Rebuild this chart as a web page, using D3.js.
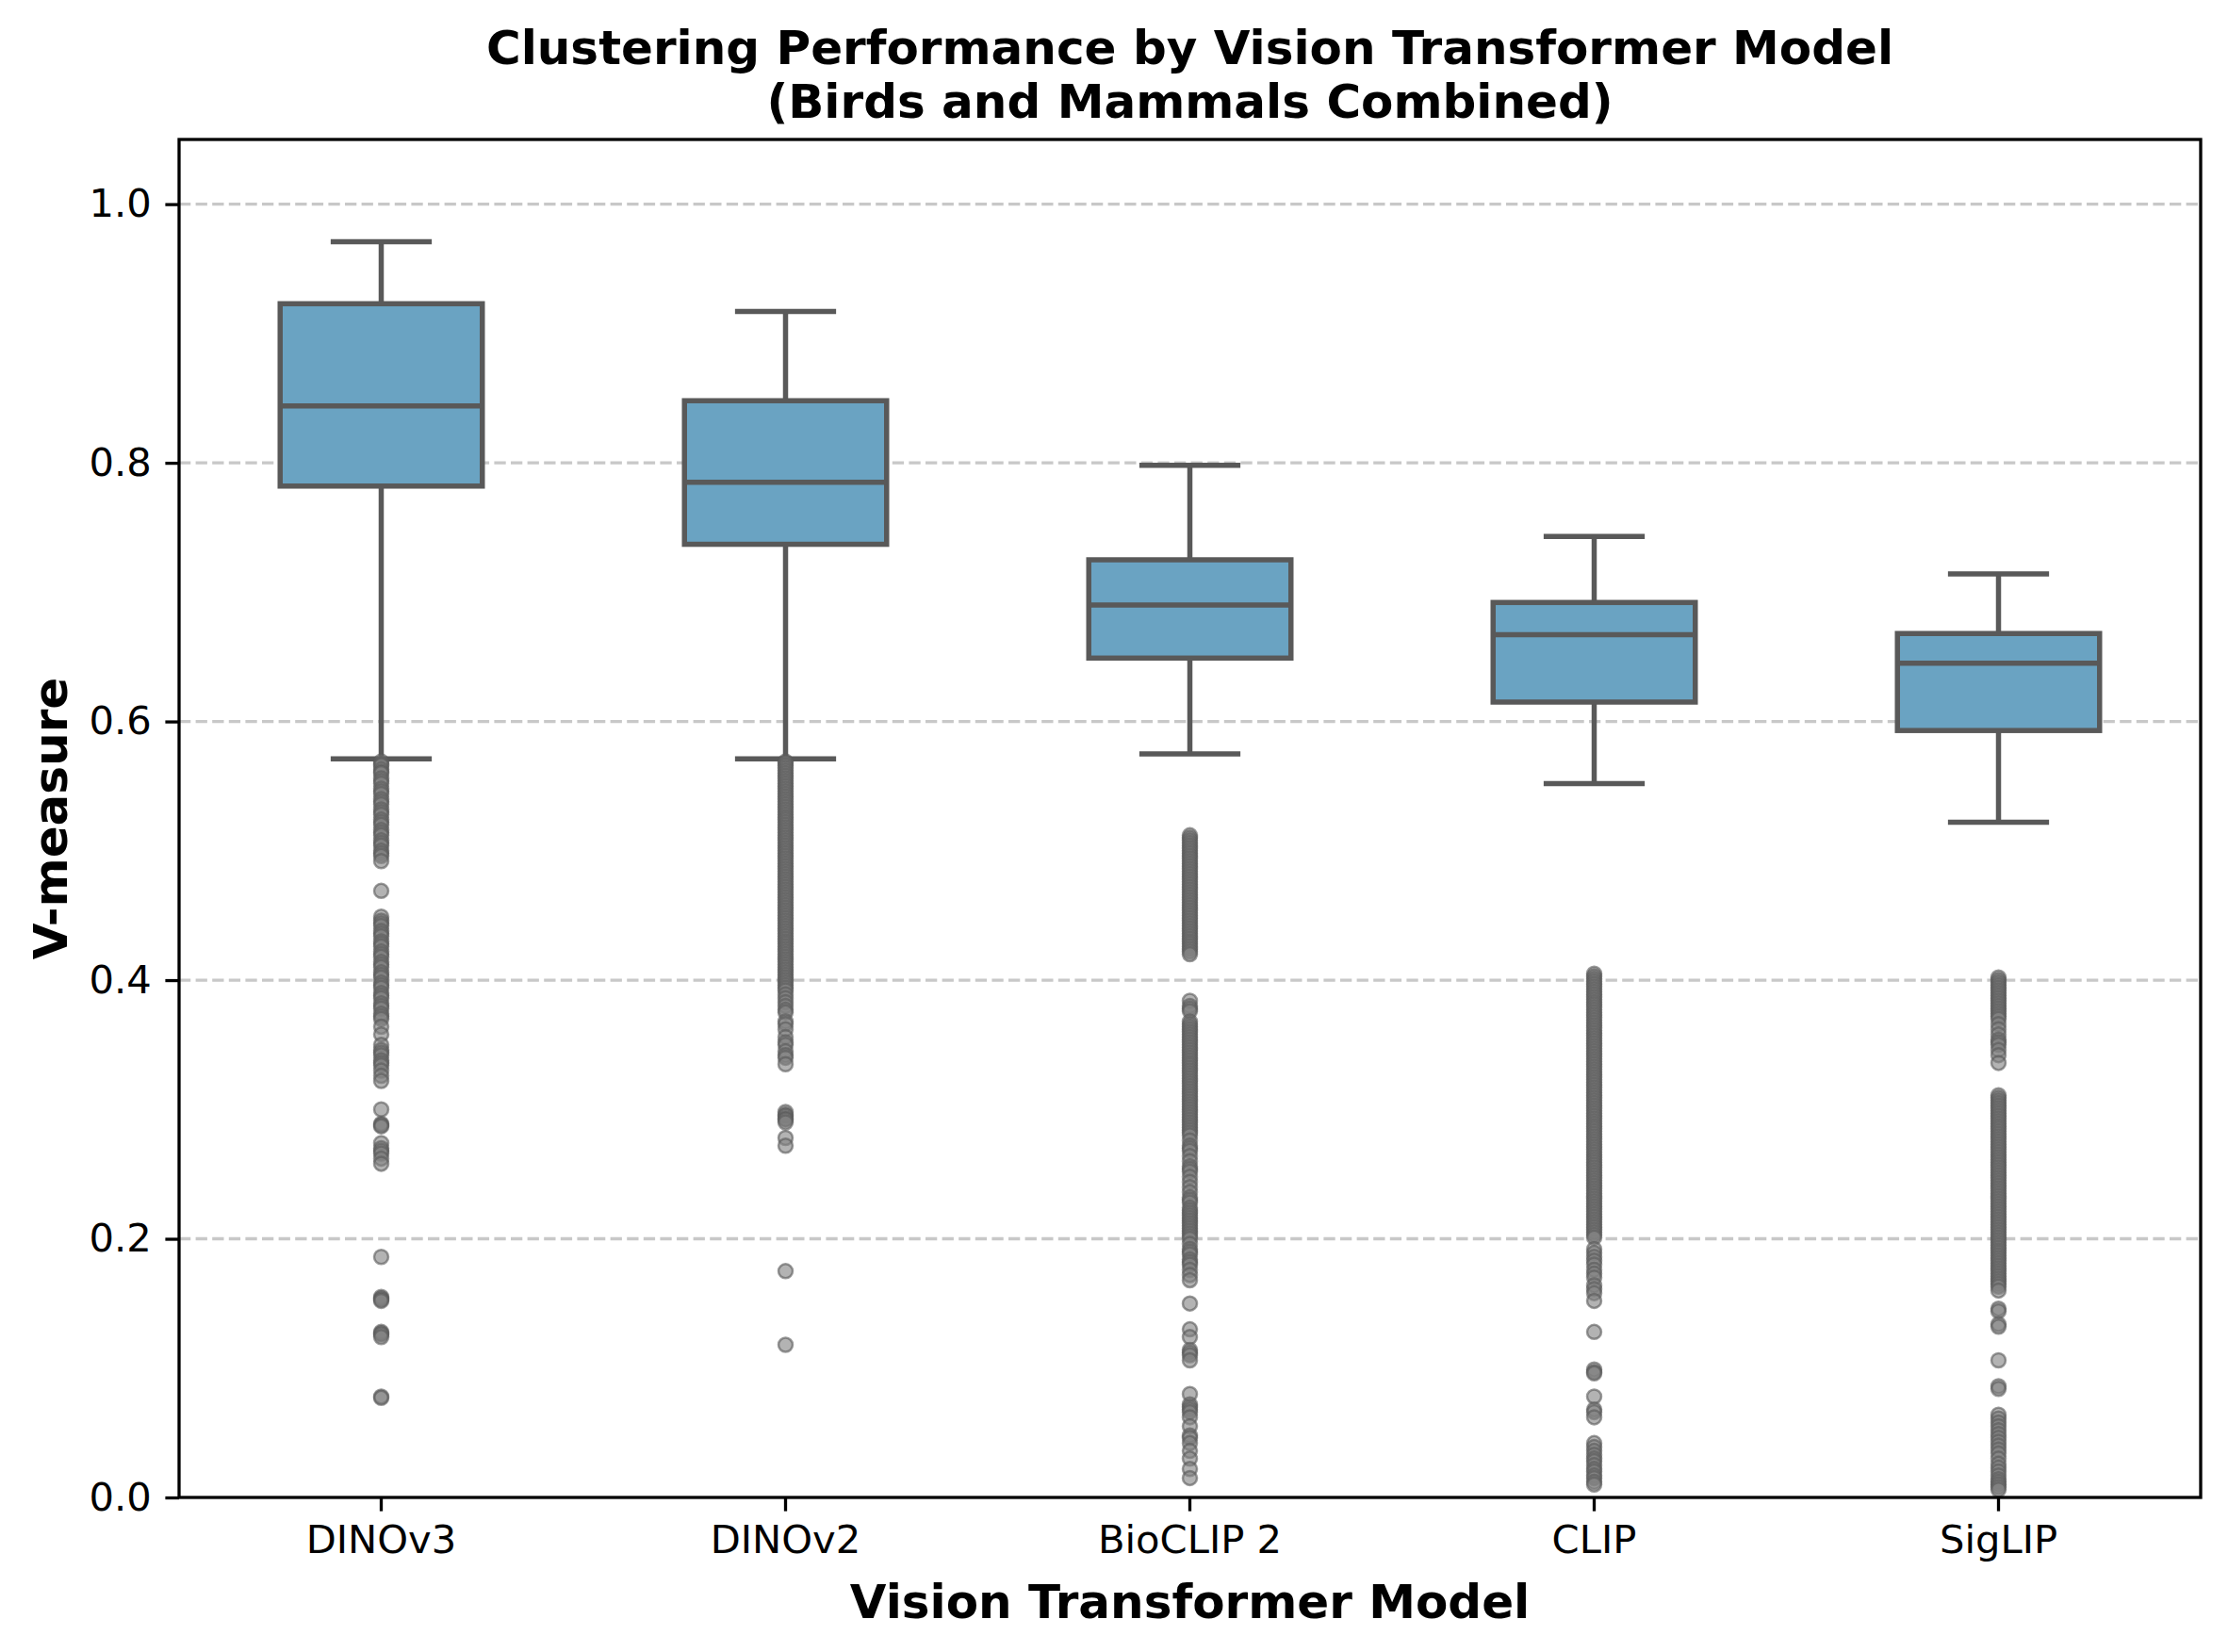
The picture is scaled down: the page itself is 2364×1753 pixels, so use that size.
<!DOCTYPE html>
<html>
<head>
<meta charset="utf-8">
<script src="https://cdn.jsdelivr.net/npm/d3@7"></script>
<style>
  body { margin: 0; background: #fff; }
  text { font-family: 'DejaVu Sans', sans-serif; }
</style>
</head>
<body>
<div id="chart-container"></div>
<script>
// models and box stats
const models = ['DINOv3', 'DINOv2', 'BioCLIP 2', 'CLIP', 'SigLIP'];
const whiskerHigh = [0.971, 0.917, 0.798, 0.743, 0.714];
const q3 = [0.923, 0.848, 0.725, 0.692, 0.668];
const median = [0.844, 0.785, 0.690, 0.667, 0.645];
const q1 = [0.782, 0.737, 0.649, 0.615, 0.593];
const whiskerLow = [0.571, 0.571, 0.575, 0.552, 0.522];
const yTicks = [0.0, 0.2, 0.4, 0.6, 0.8, 1.0];

// outliers per model (estimated, dense runs overlap)
const dinov3Out = [0.569, 0.567, 0.566, 0.563, 0.561, 0.560, 0.556, 0.554, 0.552, 0.548, 0.546, 0.544,
  0.540, 0.538, 0.536, 0.532, 0.530, 0.528, 0.524, 0.522, 0.520, 0.516, 0.514, 0.512, 0.508, 0.506,
  0.504, 0.500, 0.498, 0.496, 0.492, 0.469,
  0.449, 0.446, 0.444, 0.442, 0.438, 0.436, 0.434, 0.430, 0.428, 0.426, 0.422, 0.420, 0.418, 0.414,
  0.412, 0.410, 0.406, 0.404, 0.402, 0.398, 0.396, 0.394, 0.390, 0.388, 0.386, 0.382, 0.380, 0.378,
  0.374, 0.372, 0.370, 0.364, 0.358, 0.350, 0.346, 0.344, 0.342, 0.338, 0.336, 0.334, 0.330, 0.326,
  0.322, 0.300, 0.289, 0.288, 0.287, 0.274, 0.270, 0.268, 0.266, 0.262, 0.258,
  0.186, 0.155, 0.154, 0.153, 0.152, 0.128, 0.127, 0.126, 0.124, 0.078, 0.077];
const dinov2Out = [0.569, 0.568, 0.566, 0.564, 0.562, 0.560, 0.558, 0.556, 0.554, 0.552, 0.550, 0.548,
  0.546, 0.544, 0.542, 0.540, 0.538, 0.536, 0.534, 0.532, 0.530, 0.528, 0.526, 0.524, 0.522, 0.520,
  0.518, 0.516, 0.514, 0.512, 0.510, 0.508, 0.506, 0.504, 0.502, 0.500, 0.498, 0.496, 0.494, 0.492,
  0.490, 0.488, 0.486, 0.484, 0.482, 0.480, 0.478, 0.476, 0.474, 0.472, 0.470, 0.468, 0.466, 0.464,
  0.462, 0.460, 0.458, 0.456, 0.454, 0.452, 0.450, 0.448, 0.446, 0.444, 0.442, 0.440, 0.438, 0.436,
  0.434, 0.432, 0.430, 0.428, 0.426, 0.424, 0.422, 0.420, 0.418, 0.416, 0.414, 0.412, 0.410, 0.408,
  0.406, 0.404, 0.402, 0.400, 0.398, 0.396, 0.394, 0.392, 0.389, 0.386, 0.383, 0.380, 0.377, 0.375,
  0.368, 0.366, 0.362, 0.356, 0.352, 0.350, 0.345, 0.342, 0.340, 0.335,
  0.298, 0.296, 0.295, 0.293, 0.292, 0.290, 0.278, 0.272, 0.175, 0.118];
const bioclipOut = [0.512, 0.510, 0.508, 0.506, 0.504, 0.502, 0.500, 0.498, 0.496, 0.494, 0.492, 0.490,
  0.488, 0.486, 0.484, 0.482, 0.480, 0.478, 0.476, 0.474, 0.472, 0.470, 0.468, 0.466, 0.464, 0.462,
  0.460, 0.458, 0.456, 0.454, 0.452, 0.450, 0.448, 0.446, 0.444, 0.442, 0.440, 0.438, 0.436, 0.434,
  0.432, 0.430, 0.428, 0.426, 0.424, 0.422, 0.420,
  0.384, 0.380, 0.378, 0.376, 0.368, 0.366, 0.364, 0.362, 0.360, 0.358, 0.356, 0.354, 0.352, 0.350,
  0.348, 0.346, 0.344, 0.342, 0.340, 0.338, 0.336, 0.334, 0.332, 0.330, 0.328, 0.326, 0.324, 0.322,
  0.320, 0.318, 0.316, 0.314, 0.312, 0.310, 0.308, 0.306, 0.304, 0.302, 0.300, 0.298, 0.296, 0.294,
  0.292, 0.290, 0.288, 0.286, 0.284, 0.282, 0.280, 0.276, 0.272, 0.270, 0.268, 0.264, 0.260, 0.256,
  0.254, 0.252, 0.248, 0.244, 0.240, 0.236, 0.232, 0.230, 0.228, 0.224, 0.222, 0.220, 0.218, 0.216,
  0.214, 0.212, 0.210, 0.208, 0.206, 0.204, 0.202, 0.200, 0.196, 0.192, 0.190, 0.188, 0.184, 0.182,
  0.180, 0.176, 0.172, 0.168,
  0.150, 0.130, 0.124, 0.114, 0.112, 0.110, 0.106, 0.080, 0.072, 0.070, 0.068, 0.066, 0.062, 0.055,
  0.048, 0.046, 0.042, 0.036, 0.030, 0.022, 0.015];
const clipOut = [0.405, 0.403, 0.401, 0.399, 0.397, 0.395, 0.393, 0.391, 0.389, 0.387, 0.385, 0.383,
  0.381, 0.379, 0.377, 0.375, 0.373, 0.371, 0.369, 0.367, 0.365, 0.363, 0.361, 0.359, 0.357, 0.355,
  0.353, 0.351, 0.349, 0.347, 0.345, 0.343, 0.341, 0.339, 0.337, 0.335, 0.333, 0.331, 0.329, 0.327,
  0.325, 0.323, 0.321, 0.319, 0.317, 0.315, 0.313, 0.311, 0.309, 0.307, 0.305, 0.303, 0.301, 0.299,
  0.297, 0.295, 0.293, 0.291, 0.289, 0.287, 0.285, 0.283, 0.281, 0.279, 0.277, 0.275, 0.273, 0.271,
  0.269, 0.267, 0.265, 0.263, 0.261, 0.259, 0.257, 0.255, 0.253, 0.251, 0.249, 0.247, 0.245, 0.243,
  0.241, 0.239, 0.237, 0.235, 0.233, 0.231, 0.229, 0.227, 0.225, 0.223, 0.221, 0.219, 0.217, 0.215,
  0.213, 0.211, 0.209, 0.207, 0.205, 0.203, 0.201,
  0.192, 0.189, 0.186, 0.183, 0.180, 0.176, 0.173, 0.170, 0.164, 0.161, 0.158, 0.152, 0.128,
  0.099, 0.097, 0.096, 0.078, 0.068, 0.066, 0.062, 0.042, 0.039, 0.036, 0.033, 0.030, 0.028, 0.025,
  0.022, 0.020, 0.017, 0.015, 0.012, 0.010];
const siglipOut = [0.402, 0.400, 0.398, 0.396, 0.394, 0.392, 0.390, 0.388, 0.386, 0.384, 0.382, 0.380,
  0.378, 0.376, 0.374, 0.372, 0.370, 0.366, 0.362, 0.358, 0.354, 0.352, 0.350, 0.346, 0.342, 0.336,
  0.311, 0.309, 0.307, 0.305, 0.303, 0.301, 0.299, 0.297, 0.295, 0.293, 0.291, 0.289, 0.287, 0.285,
  0.283, 0.281, 0.279, 0.277, 0.275, 0.273, 0.271, 0.269, 0.267, 0.265, 0.263, 0.261, 0.259, 0.257,
  0.255, 0.253, 0.251, 0.249, 0.247, 0.245, 0.243, 0.241, 0.239, 0.237, 0.235, 0.233, 0.231, 0.229,
  0.227, 0.225, 0.223, 0.221, 0.219, 0.217, 0.215, 0.213, 0.211, 0.209, 0.207, 0.205, 0.203, 0.201,
  0.199, 0.197, 0.195, 0.193, 0.191, 0.189, 0.187, 0.185, 0.183, 0.181, 0.179, 0.177, 0.175, 0.173,
  0.171, 0.169, 0.167, 0.165, 0.163, 0.160,
  0.146, 0.144, 0.134, 0.132, 0.106, 0.086, 0.084, 0.064, 0.061, 0.058, 0.055, 0.052, 0.049, 0.046,
  0.043, 0.040, 0.037, 0.034, 0.030, 0.026, 0.023, 0.020, 0.017, 0.014, 0.012, 0.010, 0.008, 0.006];
const outliers = [dinov3Out, dinov2Out, bioclipOut, clipOut, siglipOut];

const W = 2364, H = 1753;
const margin = { left: 190, top: 148, right: 29, bottom: 164 };
const innerW = W - margin.left - margin.right;
const innerH = H - margin.top - margin.bottom;
const boxFill = '#6aa3c2';
const lineCol = '#595959';
const lw = 5.5;
const tickLen = 14.6;

const svg = d3.select('div#chart-container')
  .append('svg')
  .attr('width', W)
  .attr('height', H);

const g = svg.append('g')
  .attr('transform', `translate(${margin.left},${margin.top})`);

const x = d3.scaleBand()
  .domain(models)
  .range([0, innerW])
  .padding(0);

const y = d3.scaleLinear()
  .domain([0, 1.05])
  .range([innerH, 0]);

// grid
g.append('g')
  .selectAll('line')
  .data(yTicks.filter(d => d > 0))
  .enter()
  .append('line')
  .attr('x1', 0)
  .attr('x2', innerW)
  .attr('y1', d => y(d))
  .attr('y2', d => y(d))
  .attr('stroke', '#c8c8c8')
  .attr('stroke-width', 3.3)
  .attr('stroke-dasharray', '12.3,5.3');

const boxW = x.bandwidth() * 0.5;
const capW = boxW * 0.5;

const box = g.selectAll('g.box')
  .data(models)
  .enter()
  .append('g')
  .attr('class', 'box')
  .attr('transform', d => `translate(${x(d) + x.bandwidth() / 2},0)`);

// whiskers
box.append('line')
  .attr('y1', (_, i) => y(q3[i]))
  .attr('y2', (_, i) => y(whiskerHigh[i]))
  .attr('stroke', lineCol).attr('stroke-width', lw);
box.append('line')
  .attr('y1', (_, i) => y(q1[i]))
  .attr('y2', (_, i) => y(whiskerLow[i]))
  .attr('stroke', lineCol).attr('stroke-width', lw);

// caps
box.append('line')
  .attr('x1', -capW / 2).attr('x2', capW / 2)
  .attr('y1', (_, i) => y(whiskerHigh[i]))
  .attr('y2', (_, i) => y(whiskerHigh[i]))
  .attr('stroke', lineCol).attr('stroke-width', lw);
box.append('line')
  .attr('x1', -capW / 2).attr('x2', capW / 2)
  .attr('y1', (_, i) => y(whiskerLow[i]))
  .attr('y2', (_, i) => y(whiskerLow[i]))
  .attr('stroke', lineCol).attr('stroke-width', lw);

// box
box.append('rect')
  .attr('x', -boxW / 2)
  .attr('width', boxW)
  .attr('y', (_, i) => y(q3[i]))
  .attr('height', (_, i) => y(q1[i]) - y(q3[i]))
  .attr('fill', boxFill)
  .attr('stroke', lineCol)
  .attr('stroke-width', lw);

// median
box.append('line')
  .attr('x1', -boxW / 2).attr('x2', boxW / 2)
  .attr('y1', (_, i) => y(median[i]))
  .attr('y2', (_, i) => y(median[i]))
  .attr('stroke', lineCol).attr('stroke-width', lw);

// fliers
box.each(function (_, i) {
  d3.select(this).selectAll('circle')
    .data(outliers[i])
    .enter()
    .append('circle')
    .attr('cx', 0)
    .attr('cy', d => y(d))
    .attr('r', 7.5)
    .attr('fill', '#808080')
    .attr('fill-opacity', 0.6)
    .attr('stroke', lineCol)
    .attr('stroke-opacity', 0.6)
    .attr('stroke-width', 2.5);
});

// axes
const yAxis = d3.axisLeft(y)
  .tickValues(yTicks)
  .tickFormat(d3.format('.1f'))
  .tickSize(tickLen)
  .tickPadding(14.6);

const xAxis = d3.axisBottom(x)
  .tickSize(tickLen)
  .tickPadding(14.6);

const ya = g.append('g').attr('class', 'yaxis').call(yAxis);
const xa = g.append('g').attr('class', 'xaxis')
  .attr('transform', `translate(0,${innerH})`)
  .call(xAxis);

[ya, xa].forEach(a => {
  a.select('.domain').remove();
  a.selectAll('.tick line').attr('stroke', '#000').attr('stroke-width', 3.3);
  a.selectAll('.tick text')
    .attr('fill', '#000')
    .style('font-size', '41.7px')
    .style('font-family', "'DejaVu Sans', sans-serif");
});

// frame
g.append('rect')
  .attr('width', innerW)
  .attr('height', innerH)
  .attr('fill', 'none')
  .attr('stroke', '#000')
  .attr('stroke-width', 3.3);

// labels
svg.append('text')
  .attr('x', margin.left + innerW / 2)
  .attr('y', 1717)
  .attr('text-anchor', 'middle')
  .style('font-size', '50px')
  .style('font-weight', 'bold')
  .text('Vision Transformer Model');

svg.append('text')
  .attr('transform', `translate(71,${margin.top + innerH / 2}) rotate(-90)`)
  .attr('text-anchor', 'middle')
  .style('font-size', '50px')
  .style('font-weight', 'bold')
  .text('V-measure');

const title = svg.append('text')
  .attr('x', margin.left + innerW / 2)
  .attr('text-anchor', 'middle')
  .style('font-size', '50px')
  .style('font-weight', 'bold');
title.append('tspan').attr('x', margin.left + innerW / 2).attr('y', 68)
  .text('Clustering Performance by Vision Transformer Model');
title.append('tspan').attr('x', margin.left + innerW / 2).attr('y', 125)
  .text('(Birds and Mammals Combined)');
</script>
</body>
</html>
